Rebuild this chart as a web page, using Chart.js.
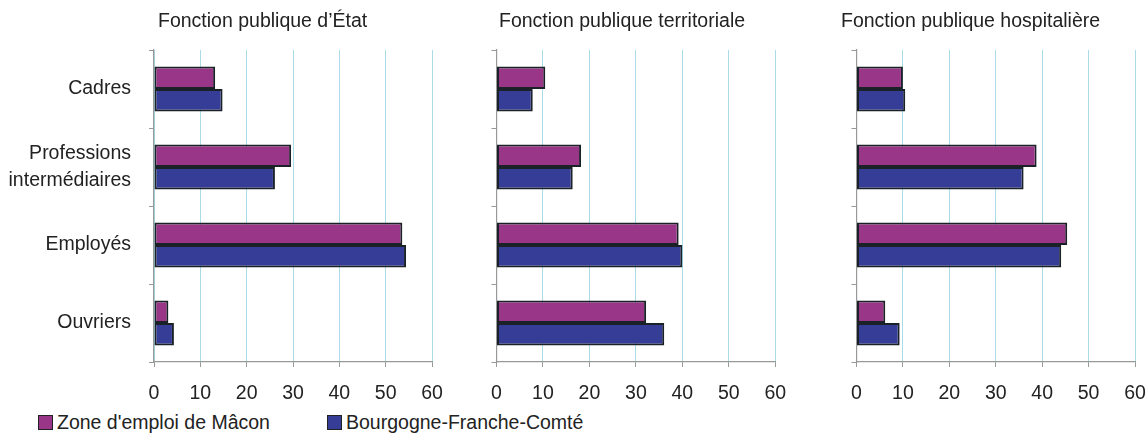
<!DOCTYPE html>
<html>
<head>
<meta charset="utf-8">
<script src="https://cdn.jsdelivr.net/npm/chart.js@4/dist/chart.umd.min.js"></script>
<style>
  body { margin: 0; background: #fff; }
  #wrap { position: relative; width: 1147px; height: 434px; overflow: hidden; font-family: 'Liberation Sans', Arial, sans-serif; color: #222; }
  canvas { position: absolute; top: 0; }
  .title { position: absolute; top: 9px; font-size: 19.5px; line-height: 23px; white-space: nowrap; }
  .leg { position: absolute; top: 411px; font-size: 19.5px; line-height: 23px; white-space: nowrap; }
  .leg span { display: inline-block; width: 13px; height: 13px; border: 1px solid #222; margin-right: 4px; vertical-align: -1px; }
</style>
</head>
<body>
<div id="wrap">
  <canvas id="c1"></canvas>
  <canvas id="c2"></canvas>
  <canvas id="c3"></canvas>
</div>
<script>
const categories = ['Cadres', ['Professions', 'intermédiaires'], 'Employés', 'Ouvriers'];
const seriesNames = ["Zone d'emploi de Mâcon", 'Bourgogne-Franche-Comté'];
const panelTitles = ['Fonction publique d’État', 'Fonction publique territoriale', 'Fonction publique hospitalière'];
const xTicks = [0, 10, 20, 30, 40, 50, 60];

const etatMacon = [13.2, 29.6, 53.6, 3.1];
const etatBfc = [14.8, 26.1, 54.4, 4.3];
const terrMacon = [10.5, 18.2, 39.2, 32.2];
const terrBfc = [7.8, 16.4, 40.0, 36.1];
const hospMacon = [10.0, 38.8, 45.4, 6.2];
const hospBfc = [10.5, 36.0, 44.1, 9.3];

const colors = ['#993688', '#363d96'];
const FONT = { family: "'Liberation Sans', Arial, sans-serif", size: 19.5 };

// panel placement: canvas left, canvas width, y-axis width, right padding
const panels = [
    { id: 'c1', left: 0, width: 460, axisW: 154, padR: 28, labels: true, macon: etatMacon, bfc: etatBfc, titleX: 158 },
    { id: 'c2', left: 440, width: 360, axisW: 56.5, padR: 24.7, labels: false, macon: terrMacon, bfc: terrBfc, titleX: 499 },
    { id: 'c3', left: 800, width: 347, axisW: 56.5, padR: 12, labels: false, macon: hospMacon, bfc: hospBfc, titleX: 841 }
];

const wrap = document.getElementById('wrap');

panels.forEach((p, i) => {
    const cv = document.getElementById(p.id);
    cv.style.left = p.left + 'px';
    cv.style.width = p.width + 'px';
    cv.style.height = '410px';
    cv.width = p.width;
    cv.height = 410;

    const t = document.createElement('div');
    t.className = 'title';
    t.style.left = p.titleX + 'px';
    t.textContent = panelTitles[i];
    wrap.appendChild(t);

    new Chart(cv.getContext('2d'), {
        type: 'bar',
        data: {
            labels: categories,
            datasets: [
                { label: seriesNames[0], data: p.macon, backgroundColor: colors[0], borderColor: '#1a2228', borderWidth: 2, borderSkipped: false },
                { label: seriesNames[1], data: p.bfc, backgroundColor: colors[1], borderColor: '#1a2228', borderWidth: 2, borderSkipped: false }
            ]
        },
        options: {
            indexAxis: 'y',
            responsive: false,
            animation: false,
            maintainAspectRatio: false,
            layout: { padding: { top: 50, right: p.padR, left: 0, bottom: 0 } },
            categoryPercentage: 0.58,
            barPercentage: 1,
            plugins: { legend: { display: false }, tooltip: { enabled: false } },
            scales: {
                x: {
                    min: 0, max: 60,
                    afterBuildTicks: s => { s.ticks = xTicks.map(v => ({ value: v })); },
                    afterFit: s => { s.height = 48; s.paddingLeft = 0; s.paddingRight = 0; },
                    grid: { color: '#a9dbe9', tickColor: '#999', tickLength: 5, lineWidth: 1 },
                    border: { color: '#999', width: 1.2 },
                    ticks: { color: '#222', font: FONT, padding: 15, maxRotation: 0 }
                },
                y: {
                    afterFit: s => { s.width = p.axisW; s.paddingTop = 0; s.paddingBottom = 0; },
                    grid: { drawOnChartArea: false, color: '#999', tickLength: 5, offset: true },
                    border: { color: '#999', width: 1.2 },
                    ticks: { display: p.labels, color: '#222', font: { ...FONT, lineHeight: 1.4 }, padding: 18 }
                }
            }
        }
    });
});

const legendX = [38, 327];
seriesNames.forEach((name, i) => {
    const d = document.createElement('div');
    d.className = 'leg';
    d.style.left = legendX[i] + 'px';
    const sw = document.createElement('span');
    sw.style.background = colors[i];
    d.appendChild(sw);
    d.appendChild(document.createTextNode(name));
    wrap.appendChild(d);
});
</script>
</body>
</html>
